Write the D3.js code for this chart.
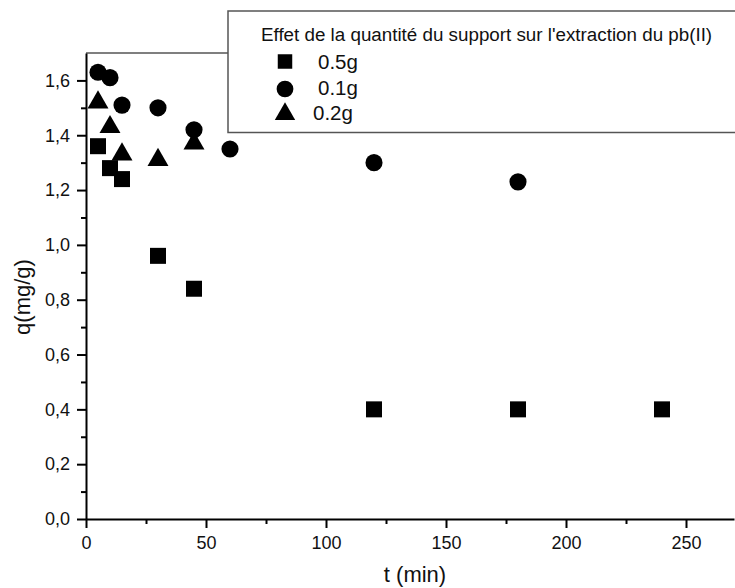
<!DOCTYPE html>
<html>
<head>
<meta charset="utf-8">
<script src="https://cdn.jsdelivr.net/npm/d3@7"></script>
<style>
  body { margin: 0; background: #fff; }
  svg { display: block; font-family: "Liberation Sans", Arial, sans-serif; }
</style>
</head>
<body>
<svg id="plot" width="735" height="588"></svg>
<script>
// data
const t05 = [5, 10, 15, 30, 45, 120, 180, 240];
const q05 = [1.36, 1.28, 1.24, 0.96, 0.84, 0.40, 0.40, 0.40];
const t01 = [5, 10, 15, 30, 45, 60, 120, 180];
const q01 = [1.63, 1.61, 1.51, 1.50, 1.42, 1.35, 1.30, 1.23];
const t02 = [5, 10, 15, 30, 45];
const q02 = [1.52, 1.43, 1.33, 1.31, 1.37];
const xTicks = [0, 50, 100, 150, 200, 250];
const xMinor = [25, 75, 125, 175, 225];
const yTicks = [0, 0.2, 0.4, 0.6, 0.8, 1.0, 1.2, 1.4, 1.6];
const yMinor = [0.1, 0.3, 0.5, 0.7, 0.9, 1.1, 1.3, 1.5];
const legendTitle = "Effet de la quantité du support sur l'extraction du pb(II)";
const seriesNames = ["0.5g", "0.1g", "0.2g"];

const svg = d3.select("#plot");
const padLeft = 86, padRight = 734, padTop = 53, padBottom = 519;

const xScale = d3.scaleLinear().domain([0, 270]).range([padLeft, padRight]);
const yScale = d3.scaleLinear().domain([0, 1.7]).range([padBottom, padTop]);

const fr = d3.formatLocale({decimal: ",", thousands: ".", grouping: [3], currency: ["", ""]});
const fmt = fr.format(".1f");

// top frame line (grey)
svg.append("line")
    .attr("x1", padLeft).attr("x2", padRight)
    .attr("y1", padTop).attr("y2", padTop)
    .attr("stroke", "#555").attr("stroke-width", 1.5);

// minor ticks
svg.append("g")
    .attr("transform", "translate(0," + padBottom + ")")
    .call(d3.axisBottom(xScale).tickValues(xMinor).tickSize(5).tickFormat(""))
    .call(g => g.select(".domain").remove())
    .selectAll("line").attr("stroke", "#000").attr("stroke-width", 2);

svg.append("g")
    .attr("transform", "translate(" + padLeft + ",0)")
    .call(d3.axisLeft(yScale).tickValues(yMinor).tickSize(5).tickFormat(""))
    .call(g => g.select(".domain").remove())
    .selectAll("line").attr("stroke", "#000").attr("stroke-width", 2);

// major axes
const xAxis = svg.append("g")
    .attr("transform", "translate(0," + padBottom + ")")
    .call(d3.axisBottom(xScale).tickValues(xTicks).tickSize(9).tickSizeOuter(0).tickPadding(8));
xAxis.select(".domain").attr("stroke", "#000").attr("stroke-width", 2);
xAxis.selectAll("line").attr("stroke", "#000").attr("stroke-width", 2);
xAxis.selectAll("text").attr("font-size", 18).attr("fill", "#111").attr("font-family", "Liberation Sans, Arial, sans-serif");

const yAxis = svg.append("g")
    .attr("transform", "translate(" + padLeft + ",0)")
    .call(d3.axisLeft(yScale).tickValues(yTicks).tickSize(9).tickSizeOuter(0).tickPadding(7).tickFormat(fmt));
yAxis.select(".domain").attr("stroke", "#000").attr("stroke-width", 2);
yAxis.selectAll("line").attr("stroke", "#000").attr("stroke-width", 2);
yAxis.selectAll("text").attr("font-size", 18).attr("fill", "#111").attr("font-family", "Liberation Sans, Arial, sans-serif");

// axis titles
svg.append("text")
    .attr("x", 415)
    .attr("y", 582)
    .attr("text-anchor", "middle")
    .attr("font-size", 22)
    .attr("fill", "#111")
    .text("t (min)");

svg.append("text")
    .attr("transform", "translate(30,297) rotate(-90)")
    .attr("text-anchor", "middle")
    .attr("font-size", 22)
    .attr("fill", "#111")
    .text("q(mg/g)");

// symbols
const symSquare = d3.symbol().type(d3.symbolSquare).size(256);
const symCircle = d3.symbol().type(d3.symbolCircle).size(230);
const symTriangle = d3.symbol().type(d3.symbolTriangle).size(190);

function drawSeries(ts, qs, sym) {
    svg.append("g").selectAll("path")
        .data(ts.map((t, i) => ({t: t, q: qs[i]})))
        .enter()
        .append("path")
        .attr("d", sym)
        .attr("transform", d => "translate(" + xScale(d.t) + "," + yScale(d.q) + ")")
        .attr("fill", "#000");
}
drawSeries(t05, q05, symSquare);
drawSeries(t01, q01, symCircle);
drawSeries(t02, q02, symTriangle);

// legend
const lg = svg.append("g");
lg.append("rect")
    .attr("x", 228).attr("y", 11)
    .attr("width", 520).attr("height", 121.5)
    .attr("fill", "#fff")
    .attr("stroke", "#555").attr("stroke-width", 1.5);
lg.append("text")
    .attr("x", 261).attr("y", 41)
    .attr("font-size", 18.8)
    .attr("fill", "#111")
    .text(legendTitle);

const legSyms = [
    d3.symbol().type(d3.symbolSquare).size(210),
    d3.symbol().type(d3.symbolCircle).size(220),
    d3.symbol().type(d3.symbolTriangle).size(180)
];
const legY = [61.5, 89, 114];
const legBase = [68.5, 94.5, 120];
const legTx = [318, 318, 313];
seriesNames.forEach((name, i) => {
    lg.append("path")
        .attr("d", legSyms[i]())
        .attr("transform", "translate(285," + legY[i] + ")")
        .attr("fill", "#000");
    lg.append("text")
        .attr("x", legTx[i]).attr("y", legBase[i])
        .attr("font-size", 20.5)
        .attr("fill", "#111")
        .text(name);
});
</script>
</body>
</html>
